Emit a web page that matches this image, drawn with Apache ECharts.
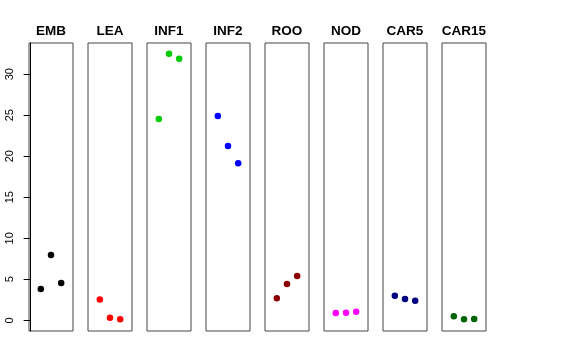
<!DOCTYPE html>
<html><head><meta charset="utf-8">
<script src="https://cdn.jsdelivr.net/npm/echarts@6/dist/echarts.min.js"></script>
<style>html,body{margin:0;padding:0;background:#fff}#c{width:576px;height:360px}</style>
</head><body><div id="c"></div>
<script>
const categories = ["EMB","LEA","INF1","INF2","ROO","NOD","CAR5","CAR15"];
const xPositions = [1, 2, 3];
const EMB = [3.82, 7.97, 4.55];
const LEA = [2.53, 0.33, 0.12];
const INF1 = [24.54, 32.5, 31.87];
const INF2 = [24.9, 21.25, 19.13];
const ROO = [2.69, 4.43, 5.41];
const NOD = [0.9, 0.93, 1.06];
const CAR5 = [3.01, 2.6, 2.4];
const CAR15 = [0.49, 0.12, 0.16];
const yTickLabels = [0, 5, 10, 15, 20, 25, 30];
const colors = ["#000000","#FF0000","#00CD00","#0000FF","#8B0000","#FF00FF","#000080","#006400"];

const seriesValues = [EMB, LEA, INF1, INF2, ROO, NOD, CAR5, CAR15];
const font = "Liberation Sans, Arial, Helvetica, sans-serif";
const grids = [], xAxes = [], yAxes = [], series = [], titles = [];
const left0 = 29, pitch = 59, w = 44;
categories.forEach((cat, i) => {
  const left = left0 + i * pitch;
  grids.push({left: left, top: 43, width: w, height: 288, show: true, borderColor: '#444', borderWidth: 1, backgroundColor: 'transparent'});
  xAxes.push({type: 'value', gridIndex: i, min: -0.16, max: 4.16, show: false});
  yAxes.push({
    type: 'value', gridIndex: i, min: -1.3, max: 33.8,
    show: i === 0,
    splitLine: {show: false},
    axisLine: {show: i === 0, lineStyle: {color: '#000', width: 1}},
    axisTick: {show: i === 0, length: 7, lineStyle: {color: '#000'}, customValues: yTickLabels},
    axisLabel: {show: i === 0, rotate: 90, margin: 14, fontSize: 11, color: '#000', fontFamily: font, customValues: yTickLabels}
  });
  series.push({
    type: 'scatter', xAxisIndex: i, yAxisIndex: i,
    symbolSize: 6.5,
    itemStyle: {color: colors[i], opacity: 1},
    data: seriesValues[i].map((v, j) => [xPositions[j], v]),
    silent: true, animation: false
  });
  titles.push({text: cat, left: left + w / 2, top: 24, textAlign: 'center', padding: 0,
    textStyle: {fontSize: 13.5, fontWeight: 'bold', color: '#000', fontFamily: font}});
});
const chart = echarts.init(document.getElementById('c'), null, {renderer: 'canvas'});
chart.setOption({animation: false, title: titles, grid: grids, xAxis: xAxes, yAxis: yAxes, series: series});
</script></body></html>
